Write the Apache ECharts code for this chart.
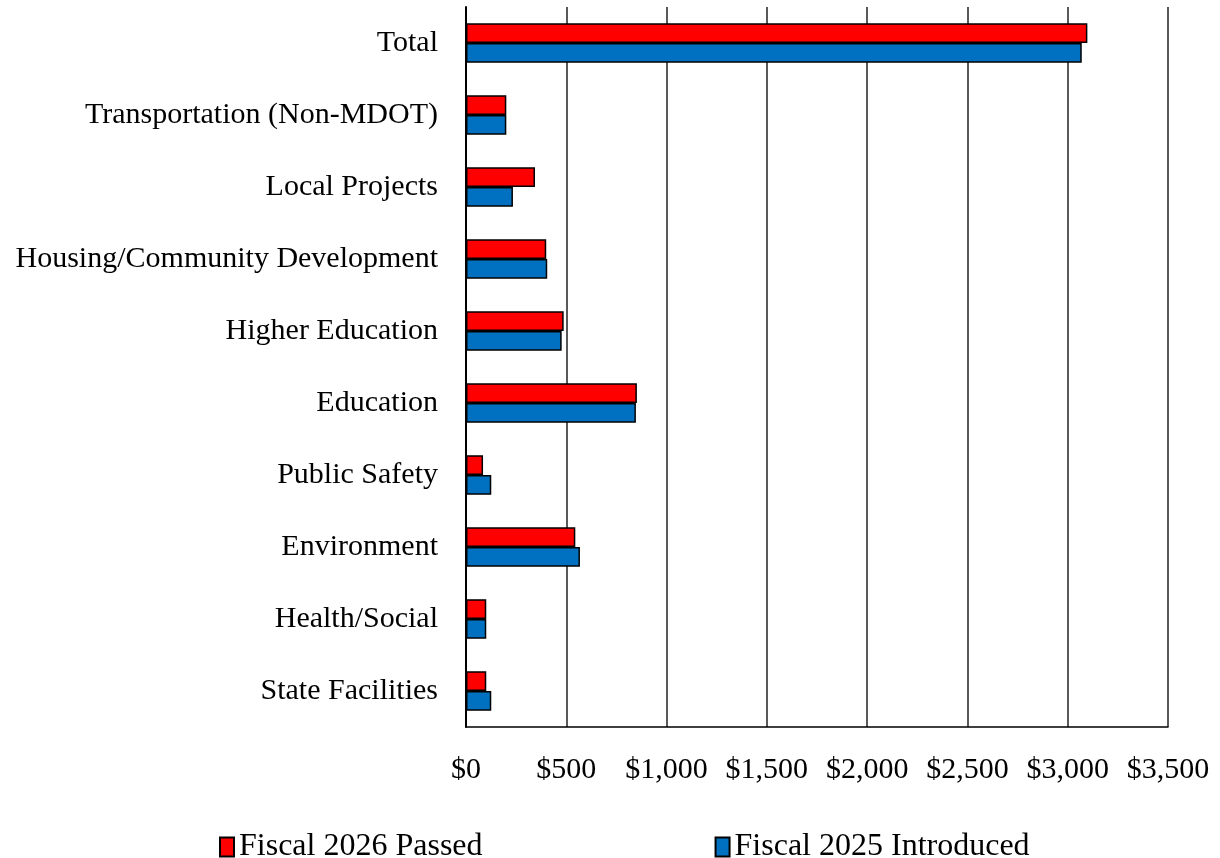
<!DOCTYPE html>
<html>
<head>
<meta charset="utf-8">
<script src="https://cdn.jsdelivr.net/npm/echarts@6/dist/echarts.min.js"></script>
<style>
  html, body { margin: 0; padding: 0; background: #fff; }
  #capital-budget { width: 1220px; height: 858px; }
</style>
</head>
<body>
<div id="capital-budget"></div>
<script>
    // categories top to bottom
    var categories = ['Total', 'Transportation (Non-MDOT)', 'Local Projects', 'Housing/Community Development',
        'Higher Education', 'Education', 'Public Safety', 'Environment', 'Health/Social', 'State Facilities'];
    var passed2026 = [3098, 201, 344, 400, 487, 852, 85, 545, 101, 101];
    var introduced2025 = [3070, 201, 234, 405, 477, 847, 126, 568, 101, 126];
    var xTicks = { min: 0, max: 3500, interval: 500 };

    var chart = echarts.init(document.getElementById('capital-budget'));
    var fontFamily = '"Liberation Serif", "Times New Roman", serif';
    var option = {
        backgroundColor: '#fff',
        animation: false,
        grid: {
            left: 466,
            right: 52,
            top: 7,
            bottom: 131
        },
        legend: {
            left: 214,
            top: 826,
            itemWidth: 14,
            itemHeight: 19,
            itemGap: 232,
            icon: 'rect',
            textStyle: {
                fontFamily: fontFamily,
                fontSize: 32,
                color: '#000'
            },
            data: ['Fiscal 2026 Passed', 'Fiscal 2025 Introduced']
        },
        xAxis: {
            type: 'value',
            min: xTicks.min,
            max: xTicks.max,
            interval: xTicks.interval,
            axisLine: { show: true, lineStyle: { color: '#000', width: 1.5 } },
            axisTick: { show: false },
            axisLabel: {
                margin: 28,
                fontFamily: fontFamily,
                fontSize: 30,
                color: '#000',
                formatter: function (v) { return '$' + v.toLocaleString('en-US'); }
            },
            splitLine: { show: true, lineStyle: { color: '#222', width: 1.5 } }
        },
        yAxis: {
            type: 'category',
            inverse: true,
            data: categories,
            axisLine: { show: true, lineStyle: { color: '#000', width: 2 } },
            axisTick: { show: false },
            axisLabel: {
                margin: 28,
                fontFamily: fontFamily,
                fontSize: 30,
                color: '#000',
                padding: [7, 0, 0, 0]
            }
        },
        series: [
            {
                name: 'Fiscal 2026 Passed',
                type: 'bar',
                data: passed2026,
                barGap: '0%',
                barCategoryGap: '45%',
                itemStyle: { color: '#ff0000', borderColor: '#000', borderWidth: 1.5 }
            },
            {
                name: 'Fiscal 2025 Introduced',
                type: 'bar',
                data: introduced2025,
                barGap: '0%',
                barCategoryGap: '45%',
                itemStyle: { color: '#0070c0', borderColor: '#000', borderWidth: 1.5 }
            }
        ]
    };
    chart.setOption(option);
</script>
</body>
</html>
